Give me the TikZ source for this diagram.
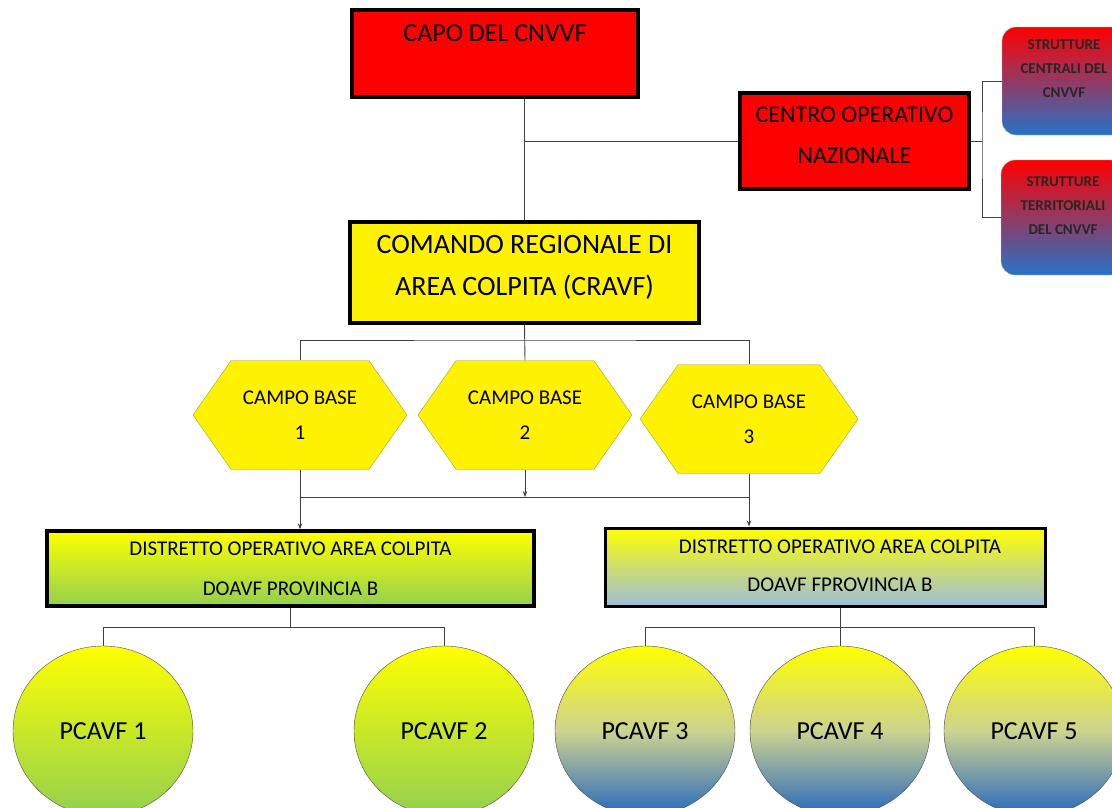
\documentclass[tikz,border=0pt]{standalone}
\usepackage{fontspec}
\setmainfont{Carlito}
\usetikzlibrary{shapes.geometric,shapes.symbols,arrows.meta}

\definecolor{cgreen}{HTML}{92D050}
\definecolor{clblue}{HTML}{9DBDDC}
\definecolor{cblue}{HTML}{2468BE}
\definecolor{cgrey}{HTML}{CDD290}
\definecolor{struttblue}{HTML}{2673C6}
\definecolor{hexline}{HTML}{A3A33A}

\begin{document}
\begin{tikzpicture}[x=1pt, y=-1pt,
   box/.style={draw=black, line width=3.5pt, inner sep=0pt, align=center},
   boxtxt/.style={align=center},
   campo/.style={signal, signal to=west and east, signal pointer angle=110, draw=hexline, fill=yellow,
      minimum width=214pt, minimum height=109pt, inner sep=0pt, align=center, font=\fontsize{21}{35}\selectfont},
   pcavf/.style={ellipse, draw=black!70, top color=yellow, minimum width=180pt, minimum height=170pt,
      font=\fontsize{26}{30}\selectfont},
   strutt/.style={rectangle, rounded corners=14pt, draw=black!25, top color=red, bottom color=struttblue,
      minimum width=124pt, minimum height=108pt},
   struttxt/.style={yshift=12pt, align=center, text=black!85, font=\bfseries\fontsize{15}{24}\selectfont},
   link/.style={draw=black!75, line width=0.9pt},
   arr/.style={link, -{Stealth[length=6pt, width=4.5pt]}}]
\useasboundingbox (0,0) rectangle (1112,807);
\clip (0,0) rectangle (1112,807);

% top of the chart
\node[box, fill=red, minimum width=286pt, text height=31.5pt, text depth=55.5pt,
      font=\fontsize{26}{31}\selectfont] (capo) at (495,53.5) {CAPO DEL CNVVF};
\node[box, fill=red, minimum width=229pt, minimum height=96pt,
      label={[boxtxt, yshift=6pt, font=\fontsize{24}{41}\selectfont]center:{CENTRO OPERATIVO\\NAZIONALE}}] (centro) at (854.5,141) {};
\node[strutt, label={[struttxt]center:{STRUTTURE\\CENTRALI DEL\\CNVVF}}] (sc) at (1064,81) {};
\node[strutt, minimum height=115pt, label={[struttxt]center:{STRUTTURE\\TERRITORIALI\\DEL CNVVF}}] (st) at (1063,217.5) {};
\node[box, fill=yellow, minimum width=349pt, minimum height=101pt,
      label={[boxtxt, yshift=5pt, font=\fontsize{28}{42}\selectfont]center:{COMANDO REGIONALE DI\\AREA COLPITA (CRAVF)}}] (comando) at (524.5,272.5) {};

% campi base
\node[campo] (hex1) at (300,415) {CAMPO BASE\\1};
\node[campo] (hex2) at (525,415) {CAMPO BASE\\2};
\node[campo, minimum width=218pt] (hex3) at (749,419) {CAMPO BASE\\3};

% distretti
\node[box, top color=yellow, bottom color=cgreen, minimum width=487pt, minimum height=75pt,
      font=\fontsize{21}{40}\selectfont] (doa1) at (290.5,568.5) {DISTRETTO OPERATIVO AREA COLPITA\\DOAVF PROVINCIA B};
\node[box, line width=3pt, top color=yellow, bottom color=clblue, minimum width=440pt, minimum height=78pt,
      label={[boxtxt, xshift=15pt, yshift=1pt, font=\fontsize{21}{38}\selectfont]center:{DISTRETTO OPERATIVO AREA COLPITA\\DOAVF FPROVINCIA B}}] (doa2) at (825,567) {};

% posti di comando
\foreach \n/\x/\c in {1/103/cgreen, 2/444/cgreen}
       \node[pcavf, bottom color=\c] (pc\n) at (\x,731) {PCAVF \n};
\foreach \n/\x in {3/645, 4/840, 5/1034}
       \node[pcavf, bottom color=cblue, middle color=cgrey] (pc\n) at (\x,731) {PCAVF \n};

% connectors
\coordinate (sbus) at (982,141);
\coordinate (cbus) at (525,340);
\coordinate (hbus) at (525,497);
\coordinate (dbus1) at (290.5,627);
\coordinate (dbus2) at (840,627);

\draw[link] (comando.north |- capo.south) -- (comando.north);
\draw[link] (centro.west) -- (centro.west -| comando.north);
\draw[link] (centro.east) -- (sbus);
\draw[link] (sc.west) -| (sbus) |- (st.west);

\draw[link] (comando.south) -- (hex2.north);
\draw[link] (hex1.north) |- (cbus) -| (hex3.north);

\draw[arr] (hex2.south) -- (hbus);
\draw[link] (hex1.south |- hbus) -- (hex3.south |- hbus);
\draw[arr] (hex1.south) -- (hex1.south |- doa1.north);
\draw[arr] (hex3.south) -- (hex3.south |- doa2.north);

\draw[link] (doa1.south) -- (dbus1);
\draw[link] (pc1.north) |- (dbus1) -| (pc2.north);
\draw[link] (pc4.north) -- (pc4.north |- doa2.south);
\draw[link] (pc3.north) |- (dbus2) -| (pc5.north);
\end{tikzpicture}
\end{document}
